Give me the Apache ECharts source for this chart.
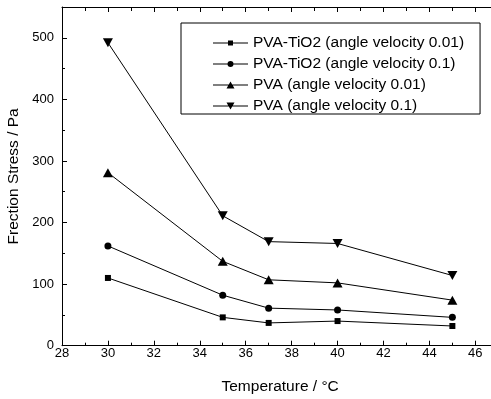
<!DOCTYPE html>
<html>
<head>
<meta charset="utf-8">
<script src="https://cdn.jsdelivr.net/npm/echarts@6/dist/echarts.min.js"></script>
<style>
html,body{margin:0;padding:0;background:#fff;}
#chart{width:491px;height:399px;}
</style>
</head>
<body>
<div id="chart"></div>
<script>
// ---- data ----
var temperature = [30, 35, 37, 40, 45];
var pvaTiO2_001 = [110, 46, 37, 40, 32];
var pvaTiO2_01 = [162, 82, 61, 58, 46];
var pva_001 = [281, 137, 107, 102, 74];
var pva_01 = [492, 211, 169, 166, 114];
var seriesNames = [
  'PVA-TiO2 (angle velocity 0.01)',
  'PVA-TiO2 (angle velocity 0.1)',
  'PVA (angle velocity 0.01)',
  'PVA (angle velocity 0.1)'
];
var xTitle = 'Temperature / °C';
var yTitle = 'Frection Stress / Pa';

function pairs(vals) {
  return temperature.map(function (t, i) { return [t, vals[i]]; });
}

// legend icons: line + marker (box 35 x 12)
var anchors = 'M0 0 L0.01 0 L0.01 0.01 Z M35 12 L34.99 12 L34.99 11.99 Z ';
var lineRect = 'M0 5.5 H35 V6.5 H0 Z ';
var iconSquare = 'path://' + anchors + lineRect + 'M15 3.5 h5 v5 h-5 Z';
var iconCircle = 'path://' + anchors + lineRect + 'M14.5 6 a3 3 0 1 1 6 0 a3 3 0 1 1 -6 0 Z';
var iconUp = 'path://' + anchors + lineRect + 'M13.5 9.5 L17.5 2.5 L21.5 9.5 Z';
var iconDown = 'path://' + anchors + lineRect + 'M13.5 2.5 L21.5 2.5 L17.5 9.5 Z';

var font = '"Liberation Sans", Arial, Helvetica, sans-serif';

function mkSeries(name, vals, symbol, size) {
  return {
    name: name,
    type: 'line',
    data: pairs(vals),
    symbol: symbol,
    symbolSize: size,
    showSymbol: true,
    lineStyle: { color: '#000', width: 1 },
    itemStyle: { color: '#000', borderWidth: 0 },
    emphasis: { disabled: true },
    z: 3
  };
}

var chart = echarts.init(document.getElementById('chart'), null, { renderer: 'canvas' });

var axisCommon = {
  axisLine: { show: true, onZero: false, lineStyle: { color: '#000', width: 1 } },
  splitLine: { show: false }
};

var option = {
  animation: false,
  backgroundColor: '#fff',
  textStyle: { fontFamily: font, color: '#000' },
  grid: {
    left: 62, top: 7, right: -7.3, bottom: 53.3,
    containLabel: false,
    outerBoundsMode: 'none'
  },
  legend: {
    orient: 'vertical',
    left: 181, top: 23,
    padding: [12, 16, 0, 32],
    itemGap: 5,
    itemWidth: 35,
    itemHeight: 12,
    symbolRotate: 0,
    borderColor: '#000',
    borderWidth: 1,
    backgroundColor: '#fff',
    selectedMode: false,
    itemStyle: { borderWidth: 0, color: '#000' },
    textStyle: { fontFamily: font, fontSize: 15.5, color: '#000' },
    data: [
      { name: seriesNames[0], icon: iconSquare },
      { name: seriesNames[1], icon: iconCircle },
      { name: seriesNames[2], icon: iconUp },
      { name: seriesNames[3], icon: iconDown }
    ]
  },
  xAxis: [
    Object.assign({}, axisCommon, {
      type: 'value',
      position: 'bottom',
      min: 28, max: 47, interval: 2,
      name: xTitle,
      nameLocation: 'middle',
      nameGap: 33,
      nameTextStyle: { fontFamily: font, fontSize: 15.5, color: '#000' },
      axisTick: { show: true, inside: true, length: 5, lineStyle: { color: '#000' } },
      minorTick: { show: true, splitNumber: 2, length: 3, lineStyle: { color: '#000' } },
      axisLabel: { show: true, margin: 1, fontSize: 13, color: '#000', fontFamily: font, showMaxLabel: false }
    }),
    Object.assign({}, axisCommon, {
      type: 'value',
      position: 'top',
      min: 28, max: 47, interval: 2,
      axisTick: { show: true, inside: true, length: 5, lineStyle: { color: '#000' } },
      minorTick: { show: true, splitNumber: 2, length: 4, lineStyle: { color: '#000' } },
      axisLabel: { show: false }
    })
  ],
  yAxis: [
    Object.assign({}, axisCommon, {
      type: 'value',
      position: 'left',
      min: 0, max: 550, interval: 100,
      name: yTitle,
      nameLocation: 'middle',
      nameGap: 39,
      nameTextStyle: { fontFamily: font, fontSize: 15.5, color: '#000' },
      axisTick: { show: true, inside: true, length: 5, lineStyle: { color: '#000' } },
      minorTick: { show: true, splitNumber: 2, length: 3, lineStyle: { color: '#000' } },
      axisLabel: { show: true, margin: 8, fontSize: 13, color: '#000', fontFamily: font, showMaxLabel: false }
    })
  ],
  series: [
    mkSeries(seriesNames[0], pvaTiO2_001, 'rect', 6),
    mkSeries(seriesNames[1], pvaTiO2_01, 'circle', 7),
    mkSeries(seriesNames[2], pva_001, 'triangle', [10, 9]),
    mkSeries(seriesNames[3], pva_01, 'path://M0 0 L10 0 L5 9 Z', [10, 9])
  ]
};

chart.setOption(option);
</script>
</body>
</html>
